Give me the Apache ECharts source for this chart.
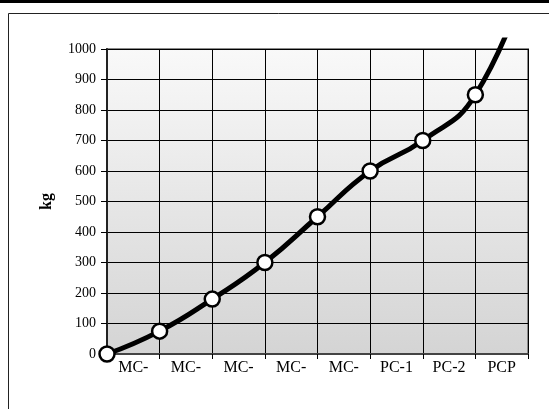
<!DOCTYPE html>
<html>
<head>
<meta charset="utf-8">
<script src="https://cdn.jsdelivr.net/npm/echarts@6/dist/echarts.min.js"></script>
<style>html,body{margin:0;padding:0;background:#fff;}#c{width:549px;height:409px;}</style>
</head>
<body>
<div id="c"></div>
<script>
// Data
var bandLabels = ['MC-', 'MC-', 'MC-', 'MC-', 'MC-', 'PC-1', 'PC-2', 'PCP'];
var pointSlots = ['0', '1', '2', '3', '4', '5', '6', '7', '8'];
var kgValues = [0, 75, 180, 300, 450, 600, 700, 850, 1250];
var yTicks = { min: 0, max: 1000, interval: 100 };

var chart = echarts.init(document.getElementById('c'), null, { renderer: 'canvas' });
var font = 'Liberation Serif';
var gridTop = 49, gridBottom = 55, overTop = 40;
var overMax = yTicks.max * (409 - gridBottom - overTop) / (409 - gridBottom - gridTop);

chart.setOption({
  animation: false,
  graphic: [
    { type: 'rect', shape: { x: 0, y: 0, width: 549, height: 3 }, style: { fill: '#000' } },
    { type: 'polyline', shape: { points: [[8.5, 409], [8.5, 13.5], [549, 13.5]] }, style: { stroke: '#222', lineWidth: 1, fill: null } }
  ],
  grid: [
    { left: 107, right: 21, top: gridTop, bottom: gridBottom, show: true, borderColor: '#8a8a8a', borderWidth: 2,
      backgroundColor: new echarts.graphic.LinearGradient(0, 0, 0, 1, [{ offset: 0, color: '#f9f9f9' }, { offset: 1, color: '#d4d4d4' }]) },
    { left: 107, right: 21, top: overTop, bottom: gridBottom }
  ],
  xAxis: [
    { type: 'category', gridIndex: 0, data: pointSlots, boundaryGap: false, position: 'bottom',
      axisLine: { show: true, lineStyle: { color: '#444', width: 2 } },
      axisTick: { show: true, length: 5, lineStyle: { color: '#000', width: 1 } },
      axisLabel: { show: false },
      splitLine: { show: true, lineStyle: { color: '#000', width: 1 } } },
    { type: 'category', gridIndex: 0, data: bandLabels, boundaryGap: true, position: 'bottom',
      axisLine: { show: false }, axisTick: { show: false }, splitLine: { show: false },
      axisLabel: { show: true, interval: 0, margin: 6, color: '#000', fontFamily: font, fontSize: 16 } },
    { type: 'category', gridIndex: 1, data: pointSlots, boundaryGap: false, show: false }
  ],
  yAxis: [
    { type: 'value', gridIndex: 0, min: yTicks.min, max: yTicks.max, interval: yTicks.interval,
      name: 'kg', nameLocation: 'middle', nameGap: 52, nameRotate: 90,
      nameTextStyle: { color: '#000', fontFamily: font, fontSize: 16, fontWeight: 'bold' },
      axisLine: { show: true, lineStyle: { color: '#222', width: 2 } },
      axisTick: { show: true, length: 6, lineStyle: { color: '#000', width: 1 } },
      axisLabel: { margin: 11, color: '#000', fontFamily: font, fontSize: 14, formatter: function (v) { return String(v); } },
      splitLine: { show: true, lineStyle: { color: '#000', width: 1 } } },
    { type: 'value', gridIndex: 1, min: yTicks.min, max: overMax, show: false, splitLine: { show: false } }
  ],
  series: [{
    type: 'line', xAxisIndex: 2, yAxisIndex: 1, data: kgValues, smooth: 0.5, clip: true,
    symbol: 'circle', symbolSize: 15,
    lineStyle: { color: '#000', width: 5 },
    itemStyle: { color: '#fff', borderColor: '#000', borderWidth: 2.5 }
  }]
});
</script>
</body>
</html>
